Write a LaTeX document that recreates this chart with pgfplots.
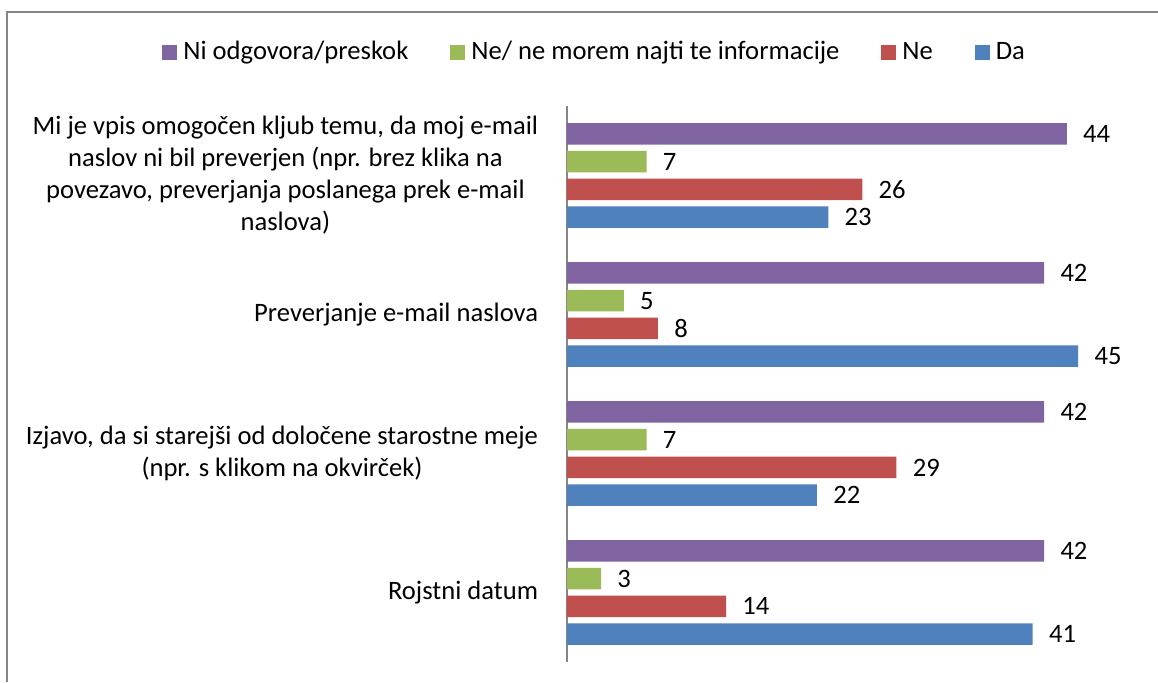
\documentclass[border=0pt]{standalone}
\usepackage{fontspec}
\setmainfont{Carlito}
\usepackage{pgfplots}
\pgfplotsset{compat=1.18}
\definecolor{cpurple}{HTML}{8064A2}
\definecolor{cgreen}{HTML}{9BBB59}
\definecolor{cred}{HTML}{C0504D}
\definecolor{cblue}{HTML}{4F81BD}
\definecolor{framegray}{HTML}{868686}
\newcommand{\cf}{\fontsize{13.3}{16}\selectfont}
\begin{document}
\begin{tikzpicture}
\useasboundingbox (-283.5pt,-10pt) rectangle (295.5pt,331pt);
\fill[white] (-283.5pt,-10pt) rectangle (295.5pt,331pt);
\draw[framegray, line width=1pt] (-280pt,-10pt) -- (-280pt,325pt) -- (295.5pt,325pt);
\begin{axis}[
  at={(0pt,0pt)}, anchor=south west,
  scale only axis, width=284pt, height=278pt,
  xmin=0, xmax=50, ymin=-0.5, ymax=3.5,
  hide x axis,
  axis y line*=left,
  y axis line style={draw=framegray, line width=0.75pt},
  ytick={0,1,2,3},
  ytick style={draw=none},
  yticklabels={Rojstni datum,
    {Izjavo, da si starejši od določene starostne meje\\(npr. s klikom na okvirček)},
    Preverjanje e-mail naslova,
    {Mi je vpis omogočen kljub temu, da moj e-mail\\naslov ni bil preverjen (npr. brez klika na\\povezavo, preverjanja poslanega prek e-mail\\naslova)}},
  yticklabel style={align=center, font=\cf, inner sep=0pt, xshift=-10pt},
  xbar, bar width=10.75pt,
  /pgf/number format/assume math mode=true,
  nodes near coords,
  nodes near coords align={horizontal},
  every node near coord/.append style={font=\cf, inner sep=0pt, xshift=8pt, anchor=west, text=black},
  legend columns=-1,
  legend style={at={(-0.713,1.097)}, anchor=west, draw=none, fill=none,
    inner sep=0pt, font=\cf, nodes={inner sep=0pt},
    /tikz/every odd column/.append style={column sep=3pt},
    /tikz/every even column/.append style={column sep=21pt}},
  legend image code/.code={\fill[#1] (0pt,-3.75pt) rectangle (7.5pt,3.75pt);},
]
\addplot[fill=cpurple, draw=none, bar shift=20.8pt] coordinates {(44,3) (42,2) (42,1) (42,0)};
\addplot[fill=cgreen, draw=none, bar shift=6.95pt] coordinates {(7,3) (5,2) (7,1) (3,0)};
\addplot[fill=cred, draw=none, bar shift=-6.95pt] coordinates {(26,3) (8,2) (29,1) (14,0)};
\addplot[fill=cblue, draw=none, bar shift=-20.8pt] coordinates {(23,3) (45,2) (22,1) (41,0)};
\legend{Ni odgovora/preskok, Ne/ ne morem najti te informacije, Ne, Da}
\end{axis}
\end{tikzpicture}
\end{document}
